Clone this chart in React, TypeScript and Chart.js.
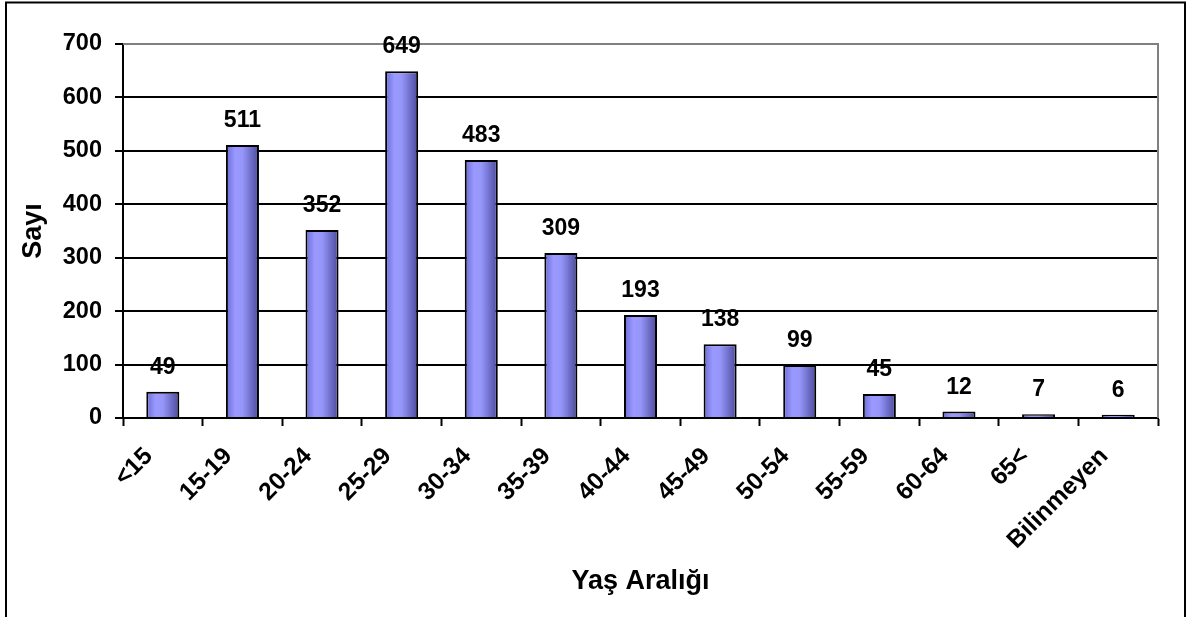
import React, { useEffect, useRef } from "react";
import { Chart, registerables } from "chart.js";

Chart.register(...registerables);

// Age groups and counts
const ageGroups = [
  "<15", "15-19", "20-24", "25-29", "30-34", "35-39", "40-44",
  "45-49", "50-54", "55-59", "60-64", "65<", "Bilinmeyen",
];
const counts = [49, 511, 352, 649, 483, 309, 193, 138, 99, 45, 12, 7, 6];
const yTicks = [0, 100, 200, 300, 400, 500, 600, 700];

const xTitle = "Yaş Aralığı";
const yTitle = "Sayı";

const FONT = "'Liberation Sans', Arial, Helvetica, sans-serif";
const BAR_PCT = 0.415;

// Outer frame plus the gray top/right edges of the plot area
const framePlugin = {
  id: "frame",
  beforeDatasetsDraw(chart: any) {
    const { ctx, chartArea } = chart;
    ctx.save();
    ctx.strokeStyle = "#808080";
    ctx.lineWidth = 2;
    ctx.beginPath();
    ctx.moveTo(chartArea.left, chartArea.top);
    ctx.lineTo(chartArea.right, chartArea.top);
    ctx.lineTo(chartArea.right, chartArea.bottom);
    ctx.stroke();
    ctx.strokeStyle = "#000";
    ctx.lineWidth = 2;
    ctx.strokeRect(6, 2.5, 1179, 700);
    ctx.restore();
  },
};

// Value labels above each bar
const valueLabels = {
  id: "valueLabels",
  afterDatasetsDraw(chart: any) {
    const { ctx } = chart;
    const meta = chart.getDatasetMeta(0);
    ctx.save();
    ctx.font = `bold 23px ${FONT}`;
    ctx.fillStyle = "#000";
    ctx.textAlign = "center";
    ctx.textBaseline = "alphabetic";
    meta.data.forEach((bar: any, i: number) => {
      ctx.fillText(String(counts[i]), bar.x, bar.y - 18);
    });
    ctx.restore();
  },
};

function barGradient(context: any) {
  const chart = context.chart;
  const xs = chart.scales && chart.scales.x;
  if (!chart.chartArea || !xs) return "#9999ff";
  const cx = xs.getPixelForValue(context.dataIndex);
  const w = ((chart.chartArea.right - chart.chartArea.left) / ageGroups.length) * BAR_PCT;
  const g = chart.ctx.createLinearGradient(cx - w / 2, 0, cx + w / 2, 0);
  g.addColorStop(0, "#6a6ad4");
  g.addColorStop(0.28, "#9999ff");
  g.addColorStop(0.5, "#9696fa");
  g.addColorStop(1, "#4a4a9c");
  return g;
}

export default function App() {
  const canvasRef = useRef<HTMLCanvasElement | null>(null);

  useEffect(() => {
    if (!canvasRef.current) return;
    const chart = new Chart(canvasRef.current, {
      type: "bar",
      data: {
        labels: ageGroups,
        datasets: [
          {
            data: counts,
            backgroundColor: barGradient,
            borderColor: "#000",
            borderWidth: 2,
            barPercentage: BAR_PCT,
            categoryPercentage: 1,
          },
        ],
      },
      options: {
        animation: false,
        responsive: false,
        devicePixelRatio: 1,
        layout: { padding: { top: 44, right: 31, left: 0, bottom: 0 } },
        plugins: {
          legend: { display: false },
          tooltip: { enabled: false },
        },
        scales: {
          x: {
            offset: true,
            grid: {
              display: true,
              offset: true,
              drawOnChartArea: false,
              drawTicks: true,
              tickLength: 8,
              tickColor: "#000",
              tickWidth: 2,
            },
            border: { display: true, color: "#000", width: 2 },
            ticks: {
              color: "#000",
              font: { family: FONT, size: 24.5, weight: "bold" },
              minRotation: 45,
              maxRotation: 45,
              autoSkip: false,
              padding: 16,
              labelOffset: -14,
            },
            title: {
              display: true,
              text: xTitle,
              color: "#000",
              font: { family: FONT, size: 27, weight: "bold" },
              padding: { top: 0, bottom: 19 },
            },
            afterFit: (scale: any) => {
              scale.height = 199;
            },
          },
          y: {
            min: 0,
            max: 700,
            afterBuildTicks: (scale: any) => {
              scale.ticks = yTicks.map((v) => ({ value: v }));
            },
            grid: {
              color: (c: any) => (c.tick && c.tick.value === 700 ? "#808080" : "#000"),
              lineWidth: 2,
              tickLength: 8,
              tickColor: "#000",
              tickWidth: 2,
            },
            border: { display: true, color: "#000", width: 2 },
            ticks: {
              color: "#000",
              font: { family: FONT, size: 23.5, weight: "bold" },
              padding: 13,
            },
            title: {
              display: true,
              text: yTitle,
              color: "#000",
              font: { family: FONT, size: 27, weight: "bold" },
              padding: { top: 17, bottom: 0 },
            },
            afterFit: (scale: any) => {
              scale.width = 123;
            },
          },
        },
      },
      plugins: [framePlugin, valueLabels],
    });
    return () => chart.destroy();
  }, []);

  return (
    <div style={{ position: "fixed", left: 0, top: 0, width: 1189, height: 617, background: "#fff" }}>
      <canvas ref={canvasRef} width={1189} height={617} style={{ display: "block" }} />
    </div>
  );
}
